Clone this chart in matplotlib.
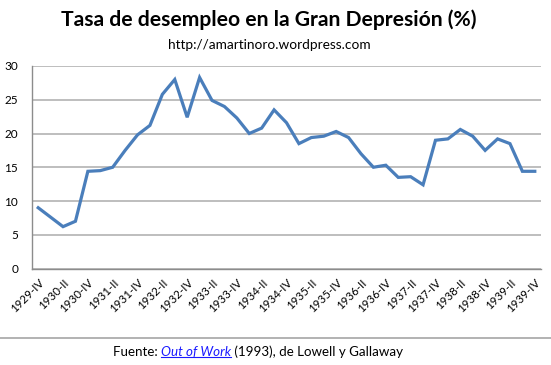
import matplotlib
matplotlib.use("Agg")
import matplotlib.pyplot as plt
from matplotlib.lines import Line2D

quarters = []
roman = ["I", "II", "III", "IV"]
years = list(range(1929, 1940))
for y in years:
    for q in roman:
        quarters.append(f"{y}-{q}")
start = quarters.index("1929-IV")
end = quarters.index("1939-IV")
categories = quarters[start:end + 1]

unemployment = [9.0, 7.6, 6.2, 7.0, 14.4, 14.5, 15.0, 17.5, 19.8, 21.2,
                25.8, 28.0, 22.4, 28.3, 24.9, 24.0, 22.3, 20.0, 20.8, 23.5,
                21.6, 18.5, 19.4, 19.6, 20.3, 19.4, 17.0, 15.0, 15.3, 13.5,
                13.6, 12.4, 19.0, 19.2, 20.6, 19.6, 17.5, 19.2, 18.5, 14.4,
                14.4]
y_ticks = [0, 5, 10, 15, 20, 25, 30]

font = ["Lato", "DejaVu Sans"]
plt.rcParams['font.family'] = font

fig = plt.figure(figsize=(5.51, 3.65), dpi=100)
ax = fig.add_axes([32/551, 1 - 268.5/365, (541-32)/551, (268.5-66)/365])

x = list(range(len(categories)))
ax.plot(x, unemployment, color="#4a7ebb", linewidth=2.3, solid_joinstyle="miter")
ax.set_xlim(-0.5, len(categories) - 0.5)
ax.set_ylim(0, 30)
ax.set_yticks(y_ticks)
ax.yaxis.grid(True, color="#b3b3b3", linewidth=1.2)
ax.set_axisbelow(True)
for s in ["top", "right"]:
    ax.spines[s].set_visible(False)
for s in ["left", "bottom"]:
    ax.spines[s].set_color("#8c8c8c")
    ax.spines[s].set_linewidth(1.0)
ax.tick_params(axis="y", length=0, pad=10, labelsize=8.5)
ax.set_yticklabels([str(v) for v in y_ticks], ha="right")
ax.set_xticks(x[::2])
ax.set_xticklabels(categories[::2], rotation=45, ha="right", rotation_mode="anchor",
                   fontsize=8.3)
ax.tick_params(axis="x", length=0, pad=6)

fig.text(0.487, 1 - 20/365, "Tasa de desempleo en la Gran Depresión (%)",
         ha="center", va="center", fontsize=15.2, fontweight="bold")
fig.text(269/551, 1 - 45/365, "http://amartinoro.wordpress.com",
         ha="center", va="center", fontsize=9.8)

fig.add_artist(Line2D([0, 1], [1 - 337.5/365] * 2, color="#a6a6a6", linewidth=1.2,
                      transform=fig.transFigure))

ty = 1 - 352/365
t1 = fig.text(113/551, ty, "Fuente: ", ha="left", va="center", fontsize=9.6)
fig.canvas.draw()
r = fig.canvas.get_renderer()
bb = t1.get_window_extent(r)
t2 = fig.text(bb.x1 / fig.bbox.width, ty, "Out of Work", ha="left", va="center",
              fontsize=9.6, style="italic", color="#1a1aff")
bb2 = t2.get_window_extent(r)
fig.add_artist(Line2D([bb2.x0 / fig.bbox.width, bb2.x1 / fig.bbox.width],
                      [(bb2.y0 + 1) / fig.bbox.height] * 2, color="#1a1aff",
                      linewidth=0.8, transform=fig.transFigure))
fig.text(bb2.x1 / fig.bbox.width, ty, " (1993), de Lowell y Gallaway", ha="left",
         va="center", fontsize=9.6)

fig.savefig("out.png", dpi=100)
